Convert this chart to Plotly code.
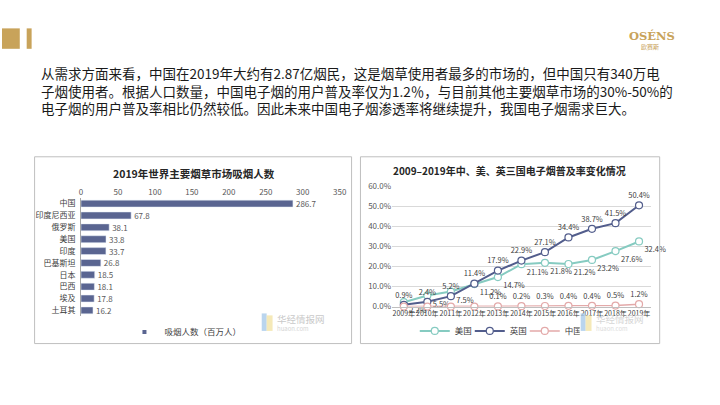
import plotly.graph_objects as go

W, H = 720, 405


def px(x):
    return x / W


def py(y):
    return 1 - y / H


# ---------------- data ----------------
countries = ["中国", "印度尼西亚", "俄罗斯", "美国", "印度", "巴基斯坦", "日本", "巴西", "埃及", "土耳其"]
smokers = [286.7, 67.8, 38.1, 33.8, 33.7, 26.8, 18.5, 18.1, 17.8, 16.2]
bar_series_name = "吸烟人数（百万人）"

years = [2009, 2010, 2011, 2012, 2013, 2014, 2015, 2016, 2017, 2018, 2019]
year_labels = [f"{y}年" for y in years]
us_rate = [2.2, 5.5, 7.5, 11.2, 14.7, 21.1, 21.8, 21.2, 23.2, 27.6, 32.4]
uk_rate = [0.9, 2.4, 5.2, 11.4, 17.9, 22.9, 27.1, 34.4, 38.7, 41.5, 50.4]
cn_rate = [0.0, 0.0, 0.0, 0.0, 0.1, 0.2, 0.3, 0.4, 0.4, 0.5, 1.2]
cn_labels = ["", "", "", "", "0.1%", "0.2%", "0.3%", "0.4%", "0.4%", "0.5%", "1.2%"]

body_lines = [
    "从需求方面来看，中国在2019年大约有2.87亿烟民，这是烟草使用者最多的市场的，但中国只有340万电",
    "子烟使用者。根据人口数量，中国电子烟的用户普及率仅为1.2％，与目前其他主要烟草市场的30%-50%的",
    "电子烟的用户普及率相比仍然较低。因此未来中国电子烟渗透率将继续提升，我国电子烟需求巨大。",
]

FONT = "Noto Sans CJK SC"
GOLD = "#C8A35A"
BAR = "#5A6591"
US_C = "#86CBC1"
UK_C = "#525D8C"
CN_C = "#E3A9A9"
LBL = "#404040"

fig = go.Figure()

# ---------------- bar chart ----------------
fig.add_trace(go.Bar(
    x=smokers, y=countries, orientation="h",
    marker=dict(color=BAR), name=bar_series_name, showlegend=False,
    text=[f"{v}" for v in smokers], textposition="outside", constraintext="none",
    textfont=dict(size=8, color="#595959", family=FONT),
    cliponaxis=False, xaxis="x", yaxis="y",
))
# legend entry with a small square key (as in the reference)
fig.add_trace(go.Scatter(
    x=[None], y=[None], mode="markers", name=bar_series_name, showlegend=True,
    marker=dict(symbol="square", size=4, color=BAR),
    xaxis="x", yaxis="y", legend="legend",
))

# ---------------- line chart ----------------
fig.add_trace(go.Scatter(
    x=years, y=us_rate, mode="lines+markers+text", name="美国", showlegend=True,
    line=dict(color=US_C, width=2),
    marker=dict(symbol="circle", size=7, color="white", line=dict(color=US_C, width=1.2)),
    text=[f"{v}%" for v in us_rate], textposition="bottom right",
    textfont=dict(size=7.5, color=LBL, family=FONT),
    cliponaxis=False, xaxis="x2", yaxis="y2", legend="legend2",
))
fig.add_trace(go.Scatter(
    x=years, y=uk_rate, mode="lines+markers+text", name="英国", showlegend=True,
    line=dict(color=UK_C, width=2),
    marker=dict(symbol="circle", size=7, color="white", line=dict(color=UK_C, width=1.2)),
    text=[f"{v}%" for v in uk_rate], textposition="top center",
    textfont=dict(size=7.5, color=LBL, family=FONT),
    cliponaxis=False, xaxis="x2", yaxis="y2", legend="legend2",
))
fig.add_trace(go.Scatter(
    x=years, y=cn_rate, mode="lines+markers+text", name="中国", showlegend=True,
    line=dict(color=CN_C, width=1.5),
    marker=dict(symbol="circle", size=7, color="white", line=dict(color=CN_C, width=1.2)),
    text=cn_labels, textposition="top center",
    textfont=dict(size=7.5, color=LBL, family=FONT),
    cliponaxis=False, xaxis="x2", yaxis="y2", legend="legend2",
))

# ---------------- shapes ----------------
shapes = [
    dict(type="rect", xref="paper", yref="paper", x0=px(0), x1=px(18), y0=py(44), y1=py(23),
         fillcolor=GOLD, line=dict(width=0)),
    dict(type="rect", xref="paper", yref="paper", x0=px(25), x1=px(30), y0=py(44), y1=py(23),
         fillcolor=GOLD, line=dict(width=0)),
    dict(type="rect", xref="paper", yref="paper", x0=px(33), x1=px(354), y0=py(347), y1=py(155),
         line=dict(color="#BFBFBF", width=1), fillcolor="rgba(0,0,0,0)"),
    dict(type="rect", xref="paper", yref="paper", x0=px(363), x1=px(666), y0=py(347), y1=py(155),
         line=dict(color="#BFBFBF", width=1), fillcolor="rgba(0,0,0,0)"),
    dict(type="rect", xref="paper", yref="paper", x0=px(263), x1=px(268), y0=py(334), y1=py(316),
         fillcolor="#A9CBEA", line=dict(width=0), opacity=0.8),
    dict(type="rect", xref="paper", yref="paper", x0=px(268), x1=px(274), y0=py(334), y1=py(318),
         fillcolor="#F3E3A6", line=dict(width=0), opacity=0.8),
    dict(type="rect", xref="paper", yref="paper", x0=px(586), x1=px(591), y0=py(334), y1=py(316),
         fillcolor="#A9CBEA", line=dict(width=0), opacity=0.8),
    dict(type="rect", xref="paper", yref="paper", x0=px(591), x1=px(597), y0=py(334), y1=py(318),
         fillcolor="#F3E3A6", line=dict(width=0), opacity=0.8),
]

# ---------------- annotations ----------------
ann = []
for i, line in enumerate(body_lines):
    ann.append(dict(x=px(37), y=py(69 + i * 18), xref="paper", yref="paper", xanchor="left",
                    yanchor="middle", text=line, showarrow=False,
                    font=dict(size=13.5, color="#1A1A1A", family=FONT)))
ann += [
    dict(x=px(658), y=py(31), xref="paper", yref="paper", text="<b>OSÉNS</b>", showarrow=False,
         font=dict(size=11.5, color=GOLD, family="DejaVu Serif"), xanchor="center", yanchor="middle"),
    dict(x=px(656), y=py(42), xref="paper", yref="paper", text="欧赛斯", showarrow=False,
         font=dict(size=6, color=GOLD, family=FONT), xanchor="center", yanchor="middle"),
    dict(x=px(194), y=py(172), xref="paper", yref="paper", text="<b>2019年世界主要烟草市场吸烟人数</b>",
         showarrow=False, font=dict(size=10.5, color="#262626", family=FONT), xanchor="center", yanchor="middle"),
    dict(x=px(514), y=py(169), xref="paper", yref="paper", text="<b>2009–2019年中、美、英三国电子烟普及率变化情况</b>",
         showarrow=False, font=dict(size=10, color="#262626", family=FONT), xanchor="center", yanchor="middle"),
    dict(x=px(276), y=py(322), xref="paper", yref="paper", text="华经情报网", showarrow=False,
         font=dict(size=9.5, color="#C9C9C9", family=FONT), xanchor="left", yanchor="middle"),
    dict(x=px(276), y=py(331), xref="paper", yref="paper", text="huaon.com", showarrow=False,
         font=dict(size=6, color="#D5D5D5", family=FONT), xanchor="left", yanchor="middle"),
    dict(x=px(599), y=py(322), xref="paper", yref="paper", text="华经情报网", showarrow=False,
         font=dict(size=9.5, color="#D6D6D6", family=FONT), xanchor="left", yanchor="middle"),
    dict(x=px(599), y=py(331), xref="paper", yref="paper", text="huaon.com", showarrow=False,
         font=dict(size=6, color="#DCDCDC", family=FONT), xanchor="left", yanchor="middle"),
]

fig.update_layout(
    width=W, height=H,
    margin=dict(l=0, r=0, t=0, b=0),
    paper_bgcolor="white", plot_bgcolor="rgba(0,0,0,0)",
    font=dict(family=FONT),
    bargap=0.42,
    shapes=shapes, annotations=ann,
    xaxis=dict(domain=[px(80), px(342)], range=[0, 350], dtick=50, side="top",
               showgrid=False, zeroline=False, showline=False, ticks="",
               tickfont=dict(size=8, color="#595959"), anchor="y", fixedrange=True),
    yaxis=dict(domain=[py(319), py(197)], autorange="reversed", showgrid=False,
               showline=True, linecolor="#A6A6A6", linewidth=1, ticks="",
               tickfont=dict(size=8, color=LBL), anchor="x", ticklabelstandoff=3),
    xaxis2=dict(domain=[px(395), px(657)], range=[2008.5, 2019.5], tickvals=years, ticktext=year_labels,
                tickangle=0, showgrid=False, zeroline=False, showline=True, linecolor="#BFBFBF",
                ticks="", tickfont=dict(size=7, color=LBL), anchor="y2"),
    yaxis2=dict(domain=[py(309), py(185)], range=[0, 60], dtick=10, tickformat=".1f", ticksuffix="%",
                showgrid=True, gridcolor="#D9D9D9", gridwidth=1, zeroline=False, ticks="",
                tickfont=dict(size=8, color="#595959"), anchor="x2"),
    legend=dict(orientation="h", x=px(124), y=py(335), xanchor="left", yanchor="middle",
                font=dict(size=8.5, color=LBL), bgcolor="rgba(0,0,0,0)", itemwidth=30),
    legend2=dict(orientation="h", x=px(418), y=py(334), xanchor="left", yanchor="middle",
                 font=dict(size=8.5, color=LBL), bgcolor="rgba(0,0,0,0)", itemwidth=30,
                 entrywidth=10, entrywidthmode="pixels", tracegroupgap=0),
)

fig.write_html("out.html")
